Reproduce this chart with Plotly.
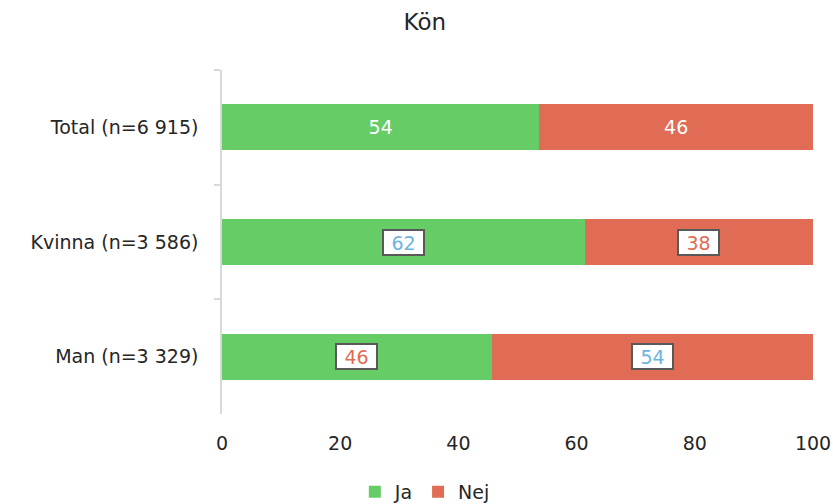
import plotly.graph_objects as go

categories = ["Total (n=6 915)", "Kvinna (n=3 586)", "Man (n=3 329)"]
ja_values = [53.7, 61.4, 45.6]
nej_values = [46.3, 38.6, 54.4]
ja_labels = ["54", "62", "46"]
nej_labels = ["46", "38", "54"]
# label colours for boxed labels (None = plain white text inside bar)
ja_label_colors = [None, "#6cb4e0", "#e06c55"]
nej_label_colors = [None, "#e06c55", "#6cb4e0"]
x_ticks = [0, 20, 40, 60, 80, 100]

GREEN = "#66cc66"
RED = "#e06c55"
FONT = "DejaVu Sans"
TXT = "#262626"

fig = go.Figure()
fig.add_trace(go.Bar(
    y=categories, x=ja_values, name="Ja", orientation="h",
    marker=dict(color=GREEN, line=dict(width=0)),
    text=[lab if c is None else "" for lab, c in zip(ja_labels, ja_label_colors)],
    textposition="inside", insidetextanchor="middle",
    textfont=dict(color="white", size=19, family=FONT),
    hoverinfo="skip",
))
fig.add_trace(go.Bar(
    y=categories, x=nej_values, name="Nej", orientation="h",
    marker=dict(color=RED, line=dict(width=0)),
    text=[lab if c is None else "" for lab, c in zip(nej_labels, nej_label_colors)],
    textposition="inside", insidetextanchor="middle",
    textfont=dict(color="white", size=19, family=FONT),
    hoverinfo="skip",
))

annotations = []
for cat, jv, nv, jl, nl, jc, nc in zip(categories, ja_values, nej_values,
                                       ja_labels, nej_labels,
                                       ja_label_colors, nej_label_colors):
    if jc is not None:
        annotations.append(dict(
            x=jv / 2, y=cat, xref="x", yref="y", text=jl, showarrow=False,
            font=dict(color=jc, size=19, family=FONT),
            bgcolor="white", bordercolor="#595959", borderwidth=2,
            width=39, height=23, borderpad=0,
        ))
    if nc is not None:
        annotations.append(dict(
            x=jv + nv / 2, y=cat, xref="x", yref="y", text=nl, showarrow=False,
            font=dict(color=nc, size=19, family=FONT),
            bgcolor="white", bordercolor="#595959", borderwidth=2,
            width=39, height=23, borderpad=0,
        ))

fig.update_layout(
    barmode="stack",
    bargap=0.6,
    width=833, height=504,
    margin=dict(l=222, r=20, t=70, b=90, autoexpand=False),
    paper_bgcolor="white", plot_bgcolor="white",
    font=dict(family=FONT, color=TXT, size=19),
    title=dict(text="Kön", x=0.51, xanchor="center", y=0.956, yanchor="middle",
               font=dict(size=23, color=TXT, family=FONT)),
    legend=dict(orientation="h", xref="container", x=0.51, xanchor="center",
                yref="container", y=0.024, yanchor="middle",
                traceorder="normal",
                font=dict(size=19, color=TXT, family=FONT),
                itemwidth=30, tracegroupgap=0),
    annotations=annotations,
    showlegend=True,
)
fig.update_xaxes(range=[0, 100], tickvals=x_ticks, showgrid=False, zeroline=False,
                 showline=False, ticks="", ticklabelstandoff=16, automargin=False,
                 tickfont=dict(size=19, color=TXT), fixedrange=True)
fig.update_yaxes(autorange="reversed", showgrid=False, zeroline=False,
                 showline=True, linecolor="#d9d9d9", linewidth=1.5,
                 ticks="outside", tickson="boundaries", ticklen=6,
                 tickcolor="#d9d9d9", tickwidth=1.5, automargin=False,
                 tickfont=dict(size=19, color=TXT), ticklabelstandoff=18,
                 fixedrange=True)

fig.write_html("out.html", post_script="document.body.style.margin='0';",
               config={"displayModeBar": False})
